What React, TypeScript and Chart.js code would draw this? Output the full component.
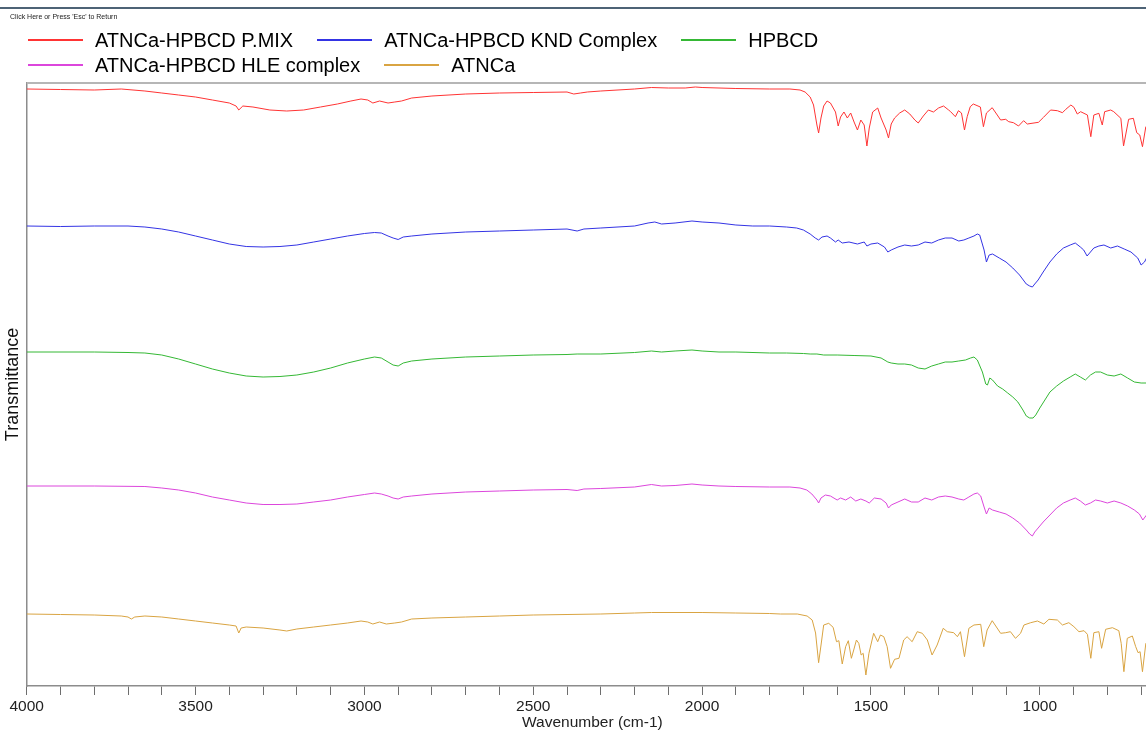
import React, { useEffect, useRef } from "react";
import { Chart, registerables } from "chart.js";

Chart.register(...registerables);

// ---- Data (wavenumber cm-1, transmittance in arbitrary stacked units) ----
const seriesNames = [
  "ATNCa-HPBCD P.MIX",
  "ATNCa-HPBCD KND Complex",
  "HPBCD",
  "ATNCa-HPBCD HLE complex",
  "ATNCa",
];
const seriesColors = ["#ff3434", "#3434e4", "#35b835", "#dc46dc", "#d9a442"];
const legendRows = [
  [0, 1, 2],
  [3, 4],
];
const xTickLabels = [4000, 3500, 3000, 2500, 2000, 1500, 1000];
const xRange = [650, 4000];
const yRange = [0, 60.3];

const pmix: [number, number][] = [
  [4000, 59.7], [3900, 59.65], [3800, 59.6], [3720, 59.7], [3650, 59.5], [3600, 59.3],
  [3550, 59.1], [3500, 58.9], [3450, 58.6], [3400, 58.3], [3380, 58.0], [3372, 57.6],
  [3360, 58.0], [3330, 57.9], [3280, 57.6], [3230, 57.5], [3180, 57.6], [3130, 57.9],
  [3080, 58.2], [3040, 58.5], [3010, 58.7], [2990, 58.6], [2975, 58.3], [2955, 58.5],
  [2930, 58.3], [2910, 58.4], [2890, 58.5], [2860, 58.8], [2800, 59.0], [2700, 59.2],
  [2600, 59.3], [2500, 59.35], [2400, 59.4], [2380, 59.2], [2360, 59.3], [2340, 59.4],
  [2300, 59.5], [2200, 59.7], [2150, 59.85], [2100, 59.8], [2050, 59.8], [2020, 59.9],
  [2000, 59.85], [1950, 59.8], [1900, 59.75], [1800, 59.7], [1740, 59.7], [1710, 59.6],
  [1695, 59.4], [1680, 58.9], [1670, 58.1], [1660, 56.1], [1655, 55.3], [1648, 56.8],
  [1640, 58.0], [1630, 58.5], [1620, 58.3], [1605, 57.4], [1597, 56.0], [1590, 56.9],
  [1580, 57.4], [1570, 56.8], [1560, 57.3], [1550, 56.4], [1540, 55.6], [1530, 56.6],
  [1520, 56.1], [1512, 54.0], [1505, 55.8], [1495, 57.4], [1480, 57.8], [1470, 56.8],
  [1455, 55.6], [1448, 54.8], [1440, 56.2], [1430, 56.8], [1415, 57.3], [1400, 57.6],
  [1385, 57.2], [1370, 56.6], [1360, 56.3], [1345, 57.0], [1330, 57.6], [1315, 57.4],
  [1300, 57.8], [1285, 58.0], [1270, 57.6], [1264, 57.43], [1250, 56.93], [1241, 57.53],
  [1232, 57.3], [1223, 55.6], [1215, 56.93], [1206, 57.93], [1197, 58.2], [1176, 57.9],
  [1167, 55.93], [1158, 57.3], [1141, 57.83], [1126, 57.1], [1116, 56.6], [1101, 56.67],
  [1092, 56.43], [1078, 56.33], [1063, 56.0], [1048, 56.53], [1037, 56.2], [1004, 56.37],
  [989, 56.87], [968, 57.6], [948, 57.53], [933, 57.33], [923, 57.67], [908, 58.1],
  [899, 57.87], [889, 57.2], [879, 57.43], [859, 57.1], [849, 54.93], [840, 57.1],
  [825, 57.27], [815, 56.1], [808, 57.43], [790, 57.6], [781, 57.43], [760, 56.77],
  [752, 54.0], [743, 55.6], [737, 56.67], [723, 56.77], [713, 55.33], [704, 55.1],
  [696, 53.93], [686, 55.93], [660, 56.6],
];

const knd: [number, number][] = [
  [4000, 46.0], [3900, 45.95], [3800, 46.0], [3700, 46.0], [3650, 45.9], [3600, 45.7],
  [3550, 45.4], [3500, 45.0], [3450, 44.6], [3400, 44.2], [3350, 43.95], [3300, 43.9],
  [3250, 43.95], [3200, 44.1], [3150, 44.4], [3100, 44.7], [3050, 45.0], [3000, 45.25],
  [2970, 45.35], [2950, 45.3], [2930, 45.0], [2915, 44.8], [2900, 44.65], [2885, 44.9],
  [2860, 45.0], [2800, 45.2], [2700, 45.4], [2600, 45.5], [2500, 45.6], [2400, 45.7],
  [2370, 45.5], [2350, 45.7], [2300, 45.8], [2200, 46.0], [2160, 46.3], [2140, 46.4],
  [2120, 46.2], [2080, 46.3], [2030, 46.5], [2000, 46.4], [1950, 46.3], [1900, 46.1],
  [1850, 46.0], [1800, 46.0], [1750, 45.9], [1720, 45.8], [1700, 45.6], [1680, 45.2],
  [1665, 44.8], [1655, 44.6], [1645, 44.9], [1630, 45.0], [1620, 44.8], [1605, 44.4],
  [1597, 44.6], [1585, 44.3], [1565, 44.4], [1540, 44.2], [1520, 44.4], [1512, 44.0],
  [1500, 44.2], [1480, 44.3], [1460, 43.9], [1450, 43.4], [1440, 43.6], [1420, 43.9],
  [1400, 44.1], [1380, 44.0], [1360, 44.1], [1340, 44.4], [1320, 44.3], [1300, 44.6],
  [1280, 44.8], [1260, 44.8], [1240, 44.5], [1225, 44.6], [1210, 44.8], [1195, 45.0],
  [1185, 45.2], [1178, 45.1], [1165, 43.6], [1158, 42.4], [1150, 43.1], [1140, 43.2],
  [1120, 42.8], [1100, 42.4], [1080, 41.8], [1060, 41.1], [1040, 40.2], [1030, 40.0],
  [1022, 39.9], [1015, 40.2], [1005, 40.6], [990, 41.4], [970, 42.4], [950, 43.2],
  [930, 43.8], [910, 44.1], [895, 44.3], [880, 43.9], [870, 43.6], [860, 43.0],
  [850, 43.4], [840, 43.8], [825, 44.0], [810, 44.1], [790, 43.8], [770, 44.0],
  [750, 43.7], [730, 43.4], [710, 42.8], [700, 42.1], [690, 42.4], [684, 42.8],
  [660, 43.1],
];

const hpbcd: [number, number][] = [
  [4000, 33.4], [3800, 33.4], [3700, 33.35], [3650, 33.3], [3600, 33.1], [3550, 32.7],
  [3500, 32.2], [3450, 31.7], [3400, 31.3], [3350, 31.0], [3300, 30.9], [3250, 30.95],
  [3200, 31.1], [3150, 31.4], [3100, 31.8], [3050, 32.3], [3000, 32.7], [2970, 32.9],
  [2950, 32.8], [2930, 32.4], [2915, 32.1], [2900, 32.0], [2885, 32.3], [2860, 32.5],
  [2800, 32.7], [2700, 32.9], [2600, 33.0], [2500, 33.1], [2400, 33.15], [2370, 33.2],
  [2300, 33.2], [2200, 33.35], [2150, 33.5], [2120, 33.4], [2080, 33.5], [2030, 33.6],
  [2000, 33.5], [1950, 33.4], [1900, 33.4], [1800, 33.3], [1750, 33.3], [1700, 33.25],
  [1680, 33.2], [1660, 33.2], [1640, 33.1], [1600, 33.1], [1550, 33.05], [1500, 33.0],
  [1470, 32.8], [1450, 32.4], [1440, 32.3], [1420, 32.2], [1400, 32.2], [1380, 32.1],
  [1360, 31.8], [1340, 31.7], [1320, 32.0], [1300, 32.2], [1280, 32.4], [1260, 32.4],
  [1240, 32.5], [1220, 32.6], [1205, 32.8], [1195, 32.9], [1185, 32.6], [1170, 31.4],
  [1160, 30.2], [1155, 30.1], [1148, 30.8], [1140, 30.6], [1125, 30.0], [1110, 29.7],
  [1095, 29.3], [1080, 28.9], [1065, 28.4], [1050, 27.6], [1040, 27.0], [1030, 26.8],
  [1020, 26.8], [1012, 27.1], [1000, 27.8], [985, 28.6], [970, 29.4], [950, 30.0],
  [930, 30.5], [910, 30.9], [895, 31.2], [880, 30.9], [865, 30.6], [850, 31.1],
  [835, 31.4], [820, 31.4], [800, 31.1], [780, 31.0], [760, 31.2], [740, 30.8],
  [720, 30.4], [700, 30.3], [684, 30.3], [660, 30.4],
];

const hle: [number, number][] = [
  [4000, 20.0], [3800, 20.0], [3650, 19.95], [3600, 19.8], [3550, 19.6], [3500, 19.3],
  [3450, 18.9], [3400, 18.6], [3350, 18.3], [3300, 18.15], [3250, 18.15], [3200, 18.2],
  [3150, 18.4], [3100, 18.6], [3050, 18.9], [3000, 19.15], [2970, 19.3], [2950, 19.2],
  [2930, 19.0], [2915, 18.8], [2900, 18.7], [2885, 18.9], [2860, 19.0], [2800, 19.2],
  [2700, 19.4], [2600, 19.5], [2500, 19.6], [2400, 19.65], [2370, 19.55], [2350, 19.7],
  [2300, 19.75], [2200, 19.9], [2150, 20.15], [2120, 20.0], [2080, 20.05], [2030, 20.2],
  [2000, 20.1], [1950, 20.0], [1900, 19.95], [1800, 19.9], [1740, 19.9], [1710, 19.8],
  [1690, 19.6], [1675, 19.2], [1660, 18.6], [1655, 18.3], [1648, 18.8], [1635, 19.1],
  [1620, 19.0], [1600, 18.6], [1590, 18.8], [1575, 18.6], [1560, 18.9], [1545, 18.5],
  [1530, 18.7], [1515, 18.5], [1505, 18.3], [1490, 18.8], [1470, 18.7], [1455, 18.3],
  [1448, 17.8], [1440, 18.1], [1420, 18.4], [1400, 18.7], [1380, 18.4], [1360, 18.4],
  [1340, 18.8], [1320, 18.6], [1300, 18.9], [1280, 19.0], [1260, 18.9], [1240, 18.7],
  [1225, 18.6], [1210, 18.9], [1195, 19.2], [1185, 19.3], [1175, 19.0], [1165, 17.9],
  [1158, 17.2], [1150, 17.8], [1140, 17.6], [1120, 17.4], [1100, 17.2], [1080, 16.8],
  [1060, 16.3], [1040, 15.6], [1030, 15.2], [1022, 15.0], [1015, 15.4], [1005, 15.8],
  [990, 16.4], [970, 17.1], [950, 17.8], [930, 18.3], [910, 18.6], [895, 18.8],
  [880, 18.5], [865, 18.1], [850, 18.3], [835, 18.6], [820, 18.5], [800, 18.3],
  [780, 18.5], [760, 18.3], [740, 18.0], [720, 17.6], [705, 17.2], [695, 16.6],
  [684, 17.1], [660, 17.4],
];

const atnca: [number, number][] = [
  [4000, 7.2], [3900, 7.15], [3800, 7.1], [3720, 7.0], [3700, 6.9], [3690, 6.7],
  [3680, 6.9], [3650, 7.0], [3600, 6.9], [3550, 6.7], [3500, 6.5], [3450, 6.3],
  [3400, 6.1], [3380, 6.0], [3372, 5.3], [3365, 5.8], [3350, 5.9], [3300, 5.8],
  [3250, 5.6], [3230, 5.5], [3200, 5.7], [3150, 5.9], [3100, 6.1], [3050, 6.3],
  [3010, 6.5], [2990, 6.4], [2975, 6.2], [2955, 6.4], [2935, 6.2], [2910, 6.3],
  [2890, 6.4], [2860, 6.7], [2800, 6.8], [2700, 6.9], [2600, 7.0], [2500, 7.1],
  [2400, 7.15], [2300, 7.2], [2200, 7.3], [2150, 7.35], [2000, 7.35], [1900, 7.3],
  [1800, 7.25], [1768, 7.2], [1718, 7.2], [1689, 7.0], [1674, 6.6], [1664, 5.3],
  [1655, 2.33], [1647, 4.3], [1640, 6.1], [1625, 6.27], [1612, 5.87], [1602, 4.43],
  [1595, 4.53], [1585, 2.2], [1575, 3.93], [1567, 4.53], [1558, 2.77], [1551, 3.6],
  [1543, 4.6], [1536, 4.27], [1529, 3.1], [1523, 3.27], [1515, 1.1], [1506, 3.27],
  [1492, 5.27], [1480, 4.43], [1472, 5.1], [1462, 4.93], [1452, 3.93], [1442, 1.77],
  [1430, 2.67], [1417, 2.77], [1403, 4.6], [1393, 4.93], [1378, 4.43], [1363, 5.43],
  [1348, 5.27], [1333, 4.6], [1319, 3.1], [1304, 4.1], [1286, 5.77], [1274, 5.43],
  [1255, 5.33], [1244, 4.93], [1235, 5.43], [1223, 2.93], [1210, 5.77], [1195, 6.1],
  [1175, 6.17], [1166, 3.93], [1156, 5.6], [1141, 6.53], [1116, 5.27], [1101, 5.33],
  [1087, 5.43], [1072, 4.77], [1057, 5.27], [1047, 6.1], [1027, 6.33], [1007, 6.5],
  [988, 6.2], [973, 6.67], [948, 6.6], [933, 6.1], [914, 6.33], [899, 5.93],
  [884, 5.43], [869, 5.53], [859, 5.17], [849, 2.77], [840, 5.33], [825, 5.43],
  [817, 3.77], [805, 5.67], [785, 5.83], [766, 5.53], [759, 4.27], [751, 1.43],
  [741, 4.77], [726, 5.0], [716, 3.93], [709, 3.33], [703, 3.43], [696, 1.43],
  [686, 4.27], [660, 5.1],
];

const seriesData = [pmix, knd, hpbcd, hle, atnca];

const FONT = '"Liberation Sans", Arial, Helvetica, sans-serif';

const topFramePlugin = {
  id: "topFrame",
  afterDraw(chart: any) {
    const { ctx, chartArea } = chart;
    ctx.save();
    ctx.strokeStyle = "#b6b6b6";
    ctx.lineWidth = 2;
    ctx.beginPath();
    ctx.moveTo(chartArea.left, chartArea.top);
    ctx.lineTo(chartArea.right, chartArea.top);
    ctx.stroke();
    ctx.restore();
  },
};

export default function App() {
  const canvasRef = useRef<HTMLCanvasElement | null>(null);

  useEffect(() => {
    if (!canvasRef.current) return;
    const chart = new Chart(canvasRef.current, {
      type: "line",
      data: {
        datasets: seriesData.map((s, i) => ({
          label: seriesNames[i],
          data: s.map(([x, y]) => ({ x, y })),
          borderColor: seriesColors[i],
          backgroundColor: seriesColors[i],
          borderWidth: 1,
          pointRadius: 0,
          tension: 0,
          fill: false,
        })),
      },
      options: {
        responsive: false,
        animation: false,
        devicePixelRatio: 1,
        layout: { padding: { top: 83, left: 0, right: 0, bottom: 0 } },
        plugins: {
          legend: { display: false },
          tooltip: { enabled: false },
        },
        scales: {
          x: {
            type: "linear",
            reverse: true,
            min: xRange[0],
            max: xRange[1],
            afterFit: (scale: any) => {
              scale.height = 46;
              scale.paddingLeft = 0;
              scale.paddingRight = 0;
            },
            ticks: {
              stepSize: 100,
              autoSkip: false,
              maxRotation: 0,
              minRotation: 0,
              includeBounds: false,
              padding: 2,
              color: "#222",
              font: { family: FONT, size: 15.5 },
              callback: (v: any) => (xTickLabels.includes(Number(v)) ? String(v) : ""),
            },
            grid: {
              display: true,
              drawOnChartArea: false,
              drawTicks: true,
              tickLength: 9,
              color: "#6e6e6e",
              lineWidth: 1,
            },
            border: { display: true, color: "#8c8c8c", width: 1.5 },
            title: {
              display: true,
              text: "Wavenumber (cm-1)",
              color: "#222",
              font: { family: FONT, size: 15.5 },
              padding: { top: 0, bottom: 0 },
            },
          },
          y: {
            type: "linear",
            min: yRange[0],
            max: yRange[1],
            afterFit: (scale: any) => {
              scale.width = 26.7;
            },
            ticks: { display: false },
            grid: { display: false },
            border: { display: true, color: "#8c8c8c", width: 1.5 },
            title: {
              display: true,
              text: "Transmittance",
              color: "#111",
              font: { family: FONT, size: 18 },
              padding: { top: 2.5, bottom: 0 },
            },
          },
        },
      },
      plugins: [topFramePlugin],
    });
    return () => chart.destroy();
  }, []);

  return (
    <div
      style={{
        position: "relative",
        width: 1146,
        height: 732,
        overflow: "hidden",
        background: "#fff",
        fontFamily: FONT,
      }}
    >
      <style>{`html,body{margin:0;padding:0;overflow:hidden;background:#fff}`}</style>
      <canvas
        ref={canvasRef}
        width={1158}
        height={732}
        style={{ position: "absolute", left: 0, top: 0, width: 1158, height: 732 }}
      />
      <div
        style={{
          position: "absolute",
          left: 0,
          top: 7,
          width: 1146,
          height: 1.5,
          background: "#4e6376",
        }}
      />
      <div
        style={{
          position: "absolute",
          left: 10,
          top: 12,
          fontSize: 7,
          lineHeight: "10px",
          color: "#222",
          whiteSpace: "nowrap",
        }}
      >
        Click Here or Press 'Esc' to Return
      </div>
      {legendRows.map((row, r) => (
        <div
          key={r}
          style={{
            position: "absolute",
            left: 28,
            top: r === 0 ? 28 : 53,
            height: 24,
            display: "flex",
            alignItems: "center",
            whiteSpace: "nowrap",
          }}
        >
          {row.map((idx) => (
            <div key={idx} style={{ display: "flex", alignItems: "center", marginRight: 24 }}>
              <div style={{ width: 55, height: 1.5, background: seriesColors[idx], marginRight: 12 }} />
              <span style={{ fontSize: 20, lineHeight: "24px", color: "#000" }}>{seriesNames[idx]}</span>
            </div>
          ))}
        </div>
      ))}
    </div>
  );
}
